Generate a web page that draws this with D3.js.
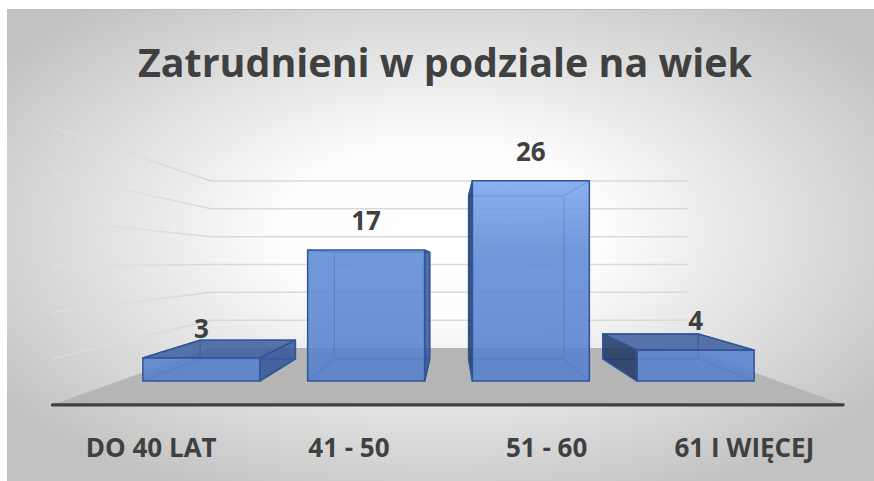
<!DOCTYPE html>
<html>
<head>
<meta charset="utf-8">
<script src="https://cdn.jsdelivr.net/npm/d3@7"></script>
<style>
  html, body { margin: 0; padding: 0; background: #ffffff; }
  svg { display: block; }
  text { font-family: "Open Sans", "DejaVu Sans", sans-serif; font-weight: 700; fill: #404040; }
</style>
</head>
<body>
<script>
const title = "Zatrudnieni w podziale na wiek";
const categories = ["DO 40 LAT", "41 - 50", "51 - 60", "61 I WIĘCEJ"];
const values = [3, 17, 26, 4];
const gridTicks = [5, 10, 15, 20, 25, 30];
const axisMax = 30;

const W = 874, H = 481;
const VP = [452, 262];          // vanishing point
const fFloorFront = 1.2, fBarFront = 1.0, fBarBack = 0.815, fWall = 0.723;

const svg = d3.select("body").append("svg").attr("width", W).attr("height", H);
const defs = svg.append("defs");

const bg = defs.append("radialGradient").attr("id", "bg")
  .attr("cx", 0.5).attr("cy", 0.47).attr("r", 0.62);
bg.append("stop").attr("offset", 0).attr("stop-color", "#ffffff");
bg.append("stop").attr("offset", 0.3).attr("stop-color", "#fdfdfd");
bg.append("stop").attr("offset", 1).attr("stop-color", "#c2c2c2");

const fg = defs.append("linearGradient").attr("id", "front")
  .attr("gradientUnits", "userSpaceOnUse").attr("x1", 0).attr("x2", 0).attr("y1", 150).attr("y2", 381);
fg.append("stop").attr("offset", 0).attr("stop-color", "#88b1f6");
fg.append("stop").attr("offset", 0.43).attr("stop-color", "#5f8bd6");
fg.append("stop").attr("offset", 1).attr("stop-color", "#5580cc");

const sg = defs.append("linearGradient").attr("id", "sidegrid")
  .attr("gradientUnits", "userSpaceOnUse").attr("x1", 50).attr("x2", 212).attr("y1", 0).attr("y2", 0);
sg.append("stop").attr("offset", 0).attr("stop-color", "#e2e2e2").attr("stop-opacity", 0.55);
sg.append("stop").attr("offset", 1).attr("stop-color", "#d6d6d6").attr("stop-opacity", 1);

svg.append("rect").attr("x", 7).attr("y", 9).attr("width", W - 7).attr("height", H - 9)
  .attr("fill", "url(#bg)");
svg.append("line").attr("x1", 7).attr("x2", W).attr("y1", 9.5).attr("y2", 9.5)
  .attr("stroke", "#bdbdbd").attr("stroke-width", 1);

const x = d3.scaleBand().domain(categories).range([119, 778])
  .paddingInner(0.29).paddingOuter(0.145);
const y = d3.scaleLinear().domain([0, axisMax]).range([381, 150]);

function P(xv, v, f) {
  return [VP[0] + (xv - VP[0]) * f, VP[1] + (y(v) - VP[1]) * f];
}
const line = d3.line();
const poly = pts => line(pts) + "Z";

const [L, R] = x.range();

// floor
svg.append("path")
  .attr("d", poly([P(L, 0, fFloorFront), P(R, 0, fFloorFront), P(R, 0, fWall), P(L, 0, fWall)]))
  .attr("fill", "#b5b5b5");

// gridlines: back wall and left wall
const grid = svg.append("g");
gridTicks.forEach(t => {
  grid.append("path").attr("d", line([P(L, t, fWall), P(R, t, fWall)]))
    .attr("stroke", "#d9d9d9").attr("stroke-width", 1.5).attr("fill", "none");
  grid.append("path").attr("d", line([P(L, t, fFloorFront), P(L, t, fWall)]))
    .attr("stroke", "url(#sidegrid)").attr("stroke-width", 1.5).attr("fill", "none");
});

// floor front edge
svg.append("path").attr("d", line([P(L, 0, fFloorFront), P(R, 0, fFloorFront)]))
  .attr("stroke", "#404040").attr("stroke-width", 3.2).attr("stroke-linecap", "round").attr("fill", "none");

// bars
const bars = svg.append("g");
categories.forEach((c, i) => {
  const v = values[i];
  const x0 = x(c), x1 = x0 + x.bandwidth();
  const g = bars.append("g");
  const c3 = {
    fbl: P(x0, 0, fBarFront), fbr: P(x1, 0, fBarFront), ftl: P(x0, v, fBarFront), ftr: P(x1, v, fBarFront),
    bbl: P(x0, 0, fBarBack), bbr: P(x1, 0, fBarBack), btl: P(x0, v, fBarBack), btr: P(x1, v, fBarBack)
  };
  const edges = [
    [c3.bbl, c3.bbr], [c3.btl, c3.btr], [c3.bbl, c3.btl], [c3.bbr, c3.btr],
    [c3.fbl, c3.bbl], [c3.fbr, c3.bbr], [c3.ftl, c3.btl], [c3.ftr, c3.btr]
  ];
  edges.forEach(e => g.append("path").attr("d", line(e))
    .attr("stroke", "#3b6cc0").attr("stroke-width", 1.3).attr("fill", "none"));

  const center = (x0 + x1) / 2;
  const leftOfVP = center < VP[0];
  const side = leftOfVP ? [c3.fbr, c3.ftr, c3.btr, c3.bbr] : [c3.fbl, c3.ftl, c3.btl, c3.bbl];
  g.append("path").attr("d", poly(side))
    .attr("fill", leftOfVP ? "#33559a" : "#1f3560").attr("fill-opacity", 0.85)
    .attr("stroke", "#2f5597").attr("stroke-width", 1.5).attr("stroke-linejoin", "round");
  if (y(v) > VP[1]) {
    g.append("path").attr("d", poly([c3.ftl, c3.ftr, c3.btr, c3.btl]))
      .attr("fill", "#3b5d9e").attr("fill-opacity", 0.85)
      .attr("stroke", "#2f5597").attr("stroke-width", 1.5).attr("stroke-linejoin", "round");
  }
  g.append("path").attr("d", poly([c3.fbl, c3.fbr, c3.ftr, c3.ftl]))
    .attr("fill", "url(#front)").attr("fill-opacity", 0.88)
    .attr("stroke", "#2f5597").attr("stroke-width", 1.5).attr("stroke-linejoin", "round");

  svg.append("text").attr("x", center).attr("y", y(v) - 20)
    .attr("text-anchor", "middle").attr("font-size", 26).text(v);

  svg.append("text").attr("x", P(center, 0, fFloorFront)[0]).attr("y", 457)
    .attr("text-anchor", "middle").attr("font-size", 26).text(c);
});

svg.append("text").attr("x", 445).attr("y", 77).attr("text-anchor", "middle")
  .attr("font-size", 40).attr("textLength", 614).attr("lengthAdjust", "spacingAndGlyphs")
  .text(title);
</script>
</body>
</html>
